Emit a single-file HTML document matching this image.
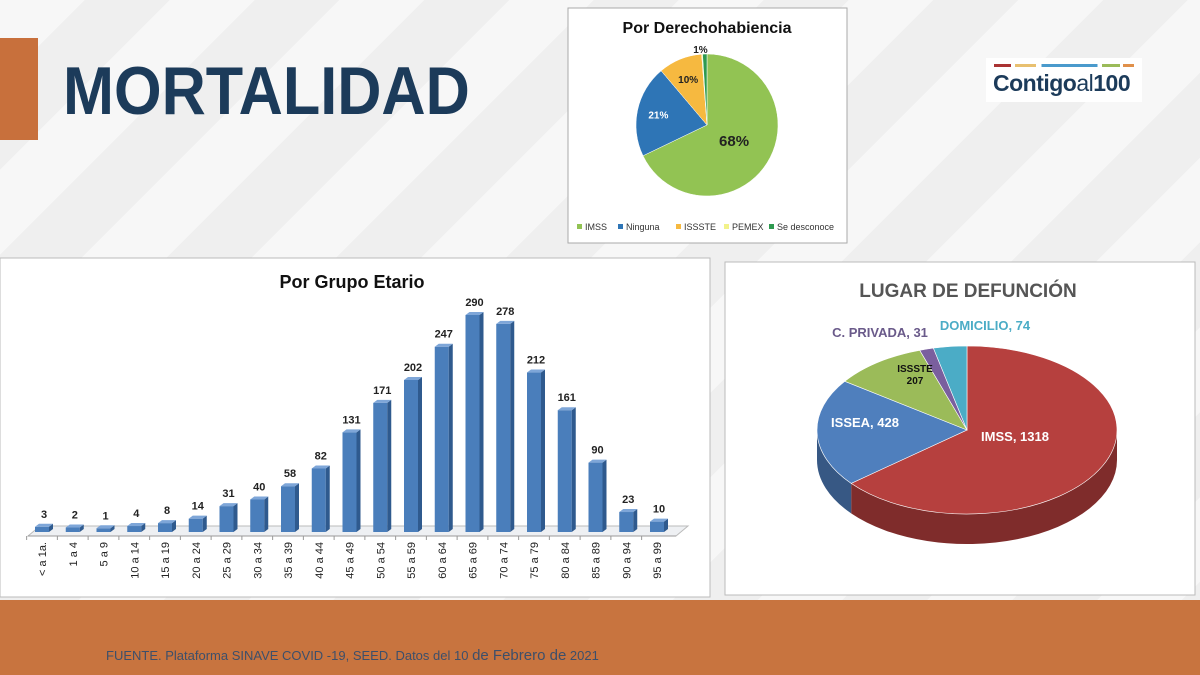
<!DOCTYPE html>
<html><head><meta charset="utf-8"><style>
body{margin:0;width:1200px;height:675px;overflow:hidden;font-family:"Liberation Sans",sans-serif;background:#f4f4f4;position:relative}
.abs{position:absolute}
</style></head><body>
<div class="abs" style="left:0;top:0;width:1200px;height:600px;background:repeating-linear-gradient(135deg,#f7f7f7 0 60px,#efefef 60px 120px)"></div>
<div class="abs" style="left:0;top:38px;width:38px;height:102px;background:#c8703c"></div>
<div class="abs" style="left:63px;top:52px;font-size:68px;font-weight:900;color:#1c3b5a;letter-spacing:0px;transform:scaleX(0.9);transform-origin:left">MORTALIDAD</div>
<div class="abs" style="left:986px;top:58px;width:156px;height:44px;background:#fff">
 <div style="position:absolute;left:8px;top:6px;width:140px;height:3px;background:linear-gradient(90deg,#a33 0 12%,transparent 12% 15%,#e8c070 15% 30%,transparent 30% 34%,#4a9acc 34% 74%,transparent 74% 77%,#9bbb59 77% 90%,transparent 90% 92%,#e0904a 92%)"></div>
 <div style="position:absolute;left:7px;top:12px;font-size:23px;font-weight:bold;color:#1c3b5a;letter-spacing:-0.5px">Contigo<span style="font-weight:normal">al</span>100</div>
</div>
<div class="abs" style="left:0;top:600px;width:1200px;height:75px;background:#c8743f"></div>
<div class="abs" style="left:106px;top:647px;font-size:13px;color:#3d4f6a">FUENTE. Plataforma SINAVE COVID -19, SEED. Datos del 10 <span style="font-size:15px">de Febrero de</span> 2021</div>

<svg class="abs" style="left:0;top:0" width="1200" height="675">
<rect x="568" y="8" width="279" height="235" fill="#fff" stroke="#aaa"/>
<text x="707" y="33" text-anchor="middle" font-size="16" font-weight="bold" fill="#111">Por Derechohabiencia</text>
<g id="pie1"></g><g id="legend1"></g>
<rect x="0" y="258" width="710" height="339" fill="#fff" stroke="#bbb"/>
<text x="352" y="288" text-anchor="middle" font-size="18" font-weight="bold" fill="#111">Por Grupo Etario</text>
<g id="bars"></g>
<rect x="725" y="262" width="470" height="333" fill="#fff" stroke="#bbb"/>
<text x="968" y="297" text-anchor="middle" font-size="19" font-weight="bold" fill="#555">LUGAR DE DEFUNCIÓN</text>
<g id="pie3d"></g>
</svg>
<script>
const pieLabels=["IMSS","Ninguna","ISSSTE","PEMEX","Se desconoce"];
const pieValues=[68,21,10,0.2,1];
const pieColors=["#92c353","#2e75b6","#f6b940","#f2f28a","#2e9a50"];
const ageCats=["< a 1a.","1 a 4","5 a 9","10 a 14","15 a 19","20 a 24","25 a 29","30 a 34","35 a 39","40 a 44","45 a 49","50 a 54","55 a 59","60 a 64","65 a 69","70 a 74","75 a 79","80 a 84","85 a 89","90 a 94","95 a 99"];
const ageValues=[3,2,1,4,8,14,31,40,58,82,131,171,202,247,290,278,212,161,90,23,10];
const placeLabels=["IMSS","ISSEA","ISSSTE","C. PRIVADA","DOMICILIO"];
const placeValues=[1318,428,207,31,74];
const placeColors=["#b6403e","#4f7fbd","#9bbb59","#7a5f9e","#4bacc6"];
const NS="http://www.w3.org/2000/svg";
function mk(p,t,a){const e=document.createElementNS(NS,t);for(const k in a)e.setAttribute(k,a[k]);p.appendChild(e);return e;}
// pie 1
(function(){
 const g=document.getElementById('pie1'),cx=707,cy=125,r=71;
 const tot=pieValues.reduce((a,b)=>a+b,0);let a0=-Math.PI/2;
 pieValues.forEach((v,i)=>{const a1=a0+v/tot*2*Math.PI;
  const p=mk(g,'path',{d:`M${cx},${cy}L${cx+r*Math.cos(a0)},${cy+r*Math.sin(a0)}A${r},${r} 0 ${a1-a0>Math.PI?1:0} 1 ${cx+r*Math.cos(a1)},${cy+r*Math.sin(a1)}Z`,fill:pieColors[i],stroke:'#fff','stroke-width':0.5});
  
  
  const m=(a0+a1)/2;let lr=i===0?r*0.45:r*0.7;
  if(v>=1){const t=mk(g,'text',{x:cx+lr*Math.cos(m)+(i==4?-5:0),y:(i==4?53:cy+lr*Math.sin(m)+4),'text-anchor':'middle','font-size':i===0?15:10,'font-weight':'bold',fill:i===1?'#fff':'#222'});t.textContent=Math.round(v)+'%';
   
   }
  a0=a1;});
 const lg=document.getElementById('legend1');const xs=[577,618,676,724,769];
 pieLabels.forEach((l,i)=>{mk(lg,'rect',{x:xs[i],y:224,width:5,height:5,fill:pieColors[i]});
  const t=mk(lg,'text',{x:xs[i]+8,y:230,'font-size':9,fill:'#333'});t.textContent=l;
  
  });
})();
// bars
(function(){
 const g=document.getElementById('bars'),x0=42,dx=30.75,base=532,k=214/290,w=14;
 mk(g,'path',{d:`M28,${base+4}L40,${base-6}L688,${base-6}L676,${base+4}Z`,fill:'#eef0f3',stroke:'#bbb'});
 mk(g,'line',{x1:28,y1:base+4,x2:676,y2:base+4,stroke:'#999'});
 ageValues.forEach((v,i)=>{const cx=x0+i*dx,h=v*k+3,y=base-h;
  const b=mk(g,'rect',{x:cx-w/2,y:y,width:w,height:h,fill:'#4a7ebb'});
  
  
  mk(g,'path',{d:`M${cx+w/2},${y}l4,-3v${h}l-4,3Z`,fill:'#2f5a8e'});
  mk(g,'path',{d:`M${cx-w/2},${y}l4,-3h${w}l-4,3Z`,fill:'#7ea6d8'});
  const t=mk(g,'text',{x:cx+2,y:y-9,'text-anchor':'middle','font-size':11,'font-weight':'bold',fill:'#222'});t.textContent=v;
  
  
  mk(g,'line',{x1:cx-dx/2,y1:base+4,x2:cx-dx/2,y2:base+8,stroke:'#999'});
  const l=mk(g,'text',{transform:`translate(${cx+4},${base+10}) rotate(-90)`,'text-anchor':'end','font-size':11,fill:'#222'});l.textContent=ageCats[i];
  
  });
})();
// 3d pie
(function(){
 const g=document.getElementById('pie3d'),cx=967,cy=430,rx=150,ry=84,d=30;
 const tot=placeValues.reduce((a,b)=>a+b,0);
 const order=[0,1,2,3,4];let a0=-Math.PI/2;const segs=[];
 order.forEach(i=>{const a1=a0+placeValues[i]/tot*2*Math.PI;segs.push({i,a0,a1});a0=a1;});
 function pt(a,dy){return [cx+rx*Math.cos(a),cy+ry*Math.sin(a)+(dy||0)];}
 function dark(c){const n=parseInt(c.slice(1),16);return `rgb(${(n>>16)*0.7|0},${((n>>8)&255)*0.7|0},${(n&255)*0.7|0})`;}
 segs.forEach(s=>{const a=Math.max(s.a0,0),b=Math.min(s.a1,Math.PI);
  if(b>a){const p1=pt(a),p2=pt(b);
   mk(g,'path',{d:`M${p1}A${rx},${ry} 0 0 1 ${p2}L${p2[0]},${p2[1]+d}A${rx},${ry} 0 0 0 ${p1[0]},${p1[1]+d}Z`,fill:dark(placeColors[s.i])});}
  const a2=Math.max(s.a0,2*Math.PI),b2=Math.min(s.a1,3*Math.PI);
  if(b2>a2){const p1=pt(a2),p2=pt(b2);mk(g,'path',{d:`M${p1}A${rx},${ry} 0 0 1 ${p2}L${p2[0]},${p2[1]+d}A${rx},${ry} 0 0 0 ${p1[0]},${p1[1]+d}Z`,fill:dark(placeColors[s.i])});}});
 segs.forEach(s=>{const p1=pt(s.a0),p2=pt(s.a1);
  const p=mk(g,'path',{d:`M${cx},${cy}L${p1}A${rx},${ry} 0 ${s.a1-s.a0>Math.PI?1:0} 1 ${p2}Z`,fill:placeColors[s.i],stroke:'#fff','stroke-width':0.6});
  
  });
 const labs=[[1015,441,'#fff','middle',placeLabels[0]+', '+placeValues[0]],[865,427,'#fff','middle',placeLabels[1]+', '+placeValues[1]],[915,372,'#111','middle',placeLabels[2]],[915,384,'#111','middle',''+placeValues[2]],[880,337,'#6a5a8a','middle',placeLabels[3]+', '+placeValues[3]],[985,330,'#4bacc6','middle',placeLabels[4]+', '+placeValues[4]]];
 labs.forEach((l,j)=>{const t=mk(g,'text',{x:l[0],y:l[1],'text-anchor':l[3],'font-size':j==2||j==3?10:13,'font-weight':'bold',fill:l[2]});t.textContent=l[4];
  
  });
})();
</script>
</body></html>
